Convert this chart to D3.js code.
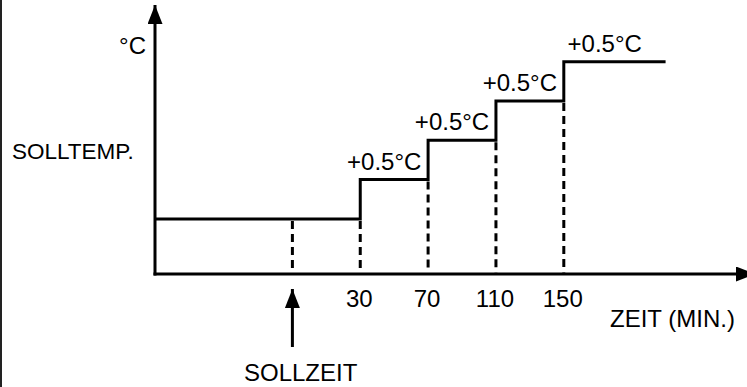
<!DOCTYPE html>
<html>
<head>
<meta charset="utf-8">
<script src="https://cdn.jsdelivr.net/npm/d3@7"></script>
<style>
  html, body { margin: 0; padding: 0; background: #fff; }
  svg { display: block; }
  text { font-family: "Liberation Sans", Arial, Helvetica, sans-serif; font-size: 24px; fill: #000; }
</style>
</head>
<body>
<svg id="chart" width="747" height="387"></svg>
<script>
// Step-wise temperature increase after the set time (Sollzeit)
const stepTimes = [30, 70, 110, 150];              // minutes, tick labels on the time axis
const tickLabels = ["30", "70", "110", "150"];
const stepLabels = ["+0.5°C", "+0.5°C", "+0.5°C", "+0.5°C"];
const profileTimes = [-91, 30, 70, 110, 150, 210];  // breakpoints of the temperature profile
const profileLevels = [0, 0.5, 1.0, 1.5, 2.0, 2.0]; // °C above set temperature
const setTime = -10;                                 // Sollzeit
const timeDomain = [-91, 258];
const tempDomain = [-0.7, 2.72];

const svg = d3.select("#chart");
const W = 747, H = 387;

const x = d3.scaleLinear().domain(timeDomain).range([155, 747]);
const y = d3.scaleLinear().domain(tempDomain).range([274, 5]);

// left frame edge
svg.append("line")
  .attr("x1", 1).attr("x2", 1).attr("y1", 0).attr("y2", H)
  .attr("stroke", "#222").attr("stroke-width", 2);

const defs = svg.append("defs");
defs.append("marker")
  .attr("id", "arrow")
  .attr("viewBox", "0 0 19 15")
  .attr("refX", 19).attr("refY", 7.5)
  .attr("markerUnits", "userSpaceOnUse")
  .attr("markerWidth", 19).attr("markerHeight", 15)
  .attr("orient", "auto")
  .append("path").attr("d", "M0,0 L19,7.5 L0,15 Z").attr("fill", "#000");

const origin = { x: x(timeDomain[0]), y: y(tempDomain[0]) };

// axes
svg.append("line")
  .attr("x1", origin.x).attr("y1", origin.y + 1.5)
  .attr("x2", origin.x).attr("y2", y(tempDomain[1]))
  .attr("stroke", "#000").attr("stroke-width", 3)
  .attr("marker-end", "url(#arrow)");
svg.append("line")
  .attr("x1", origin.x - 1.5).attr("y1", origin.y)
  .attr("x2", x(timeDomain[1]) + 8).attr("y2", origin.y)
  .attr("stroke", "#000").attr("stroke-width", 3)
  .attr("marker-end", "url(#arrow)");

// dashed drop lines at the set time and each step
const levelBefore = t => {
  let v = profileLevels[0];
  profileTimes.forEach((pt, i) => { if (pt < t) v = profileLevels[i]; });
  return v;
};
const dropTimes = [setTime].concat(stepTimes);
svg.selectAll("line.drop")
  .data(dropTimes)
  .join("line")
  .attr("class", "drop")
  .attr("x1", d => x(d)).attr("x2", d => x(d))
  .attr("y1", d => y(levelBefore(d)) + 2)
  .attr("y2", origin.y - 1.5)
  .attr("stroke", "#000").attr("stroke-width", 3)
  .attr("stroke-dasharray", "8,5");

// temperature profile
const profile = profileTimes.map((t, i) => [t, profileLevels[i]]);
svg.append("path")
  .datum(profile)
  .attr("d", d3.line().x(d => x(d[0])).y(d => y(d[1])).curve(d3.curveStepAfter))
  .attr("fill", "none").attr("stroke", "#000").attr("stroke-width", 3)
  .attr("stroke-linejoin", "miter");

// step labels, centred over each raised segment
svg.selectAll("text.step")
  .data(stepTimes)
  .join("text")
  .attr("class", "step")
  .attr("text-anchor", "middle")
  .attr("x", (d, i) => (x(profileTimes[i + 1]) + x(profileTimes[i + 2])) / 2 - 10)
  .attr("y", (d, i) => y(profileLevels[i + 1]) - 10)
  .text((d, i) => stepLabels[i]);

// time tick labels
svg.selectAll("text.tick")
  .data(stepTimes)
  .join("text")
  .attr("class", "tick")
  .attr("text-anchor", "middle")
  .attr("x", d => x(d) - 1)
  .attr("y", 307)
  .text((d, i) => tickLabels[i]);

// axis titles
svg.append("text").attr("x", origin.x - 9).attr("y", 54).attr("text-anchor", "end").text("°C");
svg.append("text").attr("x", 12).attr("y", 159).style("font-size", "22.5px").text("SOLLTEMP.");
svg.append("text").attr("x", 610).attr("y", 327).text("ZEIT (MIN.)");

// set-time pointer
svg.append("line")
  .attr("x1", x(setTime)).attr("x2", x(setTime))
  .attr("y1", 347).attr("y2", 289)
  .attr("stroke", "#000").attr("stroke-width", 3)
  .attr("marker-end", "url(#arrow)");
svg.append("text").attr("x", 244).attr("y", 381).text("SOLLZEIT");
</script>
</body>
</html>
